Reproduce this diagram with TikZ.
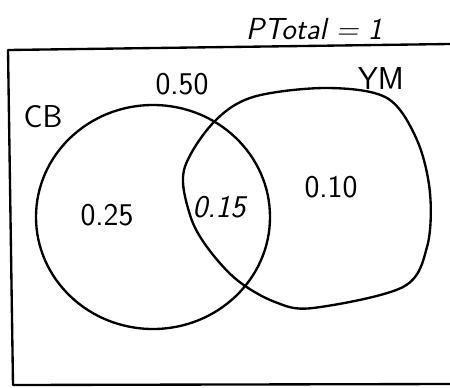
\documentclass[tikz,border=0pt]{standalone}
\usepackage{tikz}
\usetikzlibrary{positioning}

\tikzset{
  pen/.style={line width=2pt, line join=round, line cap=round},
  prob/.style={font=\sffamily\fontsize{27}{32}\selectfont}
}

\begin{document}
\begin{tikzpicture}[x=0.03cm, y=-0.03cm]
  \useasboundingbox (0,0) rectangle (450,387);

  % Sample space (open on the right)
  \draw[pen] (450,44) -- (8,50) -- (13,385) -- (450,384);
  \node[prob, font=\sffamily\itshape\fontsize{26}{30}\selectfont, anchor=base] (total) at (314,39) {PTotal = 1};

  % Set CB
  \draw[pen] (153,217) ellipse [x radius=117, y radius=112];
  \node[prob] (cblabel) at (43,117) {CB};

  % Set YM
  \draw[pen] plot[smooth cycle, tension=0.55] coordinates {
    (184,170) (213,123) (253,97) (327,88) (387,98) (417,140)
    (430,193) (427,247) (403,287) (313,308) (275,302) (237,280)
    (207,247) (190,215)};
  \node[prob] (ymlabel) at (381,79) {YM};

  % Probabilities
  \node[prob] (outside) at (182,84) {0.50};
  \node[prob] (onlycb) at (107,215) {0.25};
  \node[prob, font=\sffamily\itshape\fontsize{27}{32}\selectfont] (both) at (219,207) {0.15};
  \node[prob] (onlyym) at (331,187) {0.10};
\end{tikzpicture}
\end{document}
